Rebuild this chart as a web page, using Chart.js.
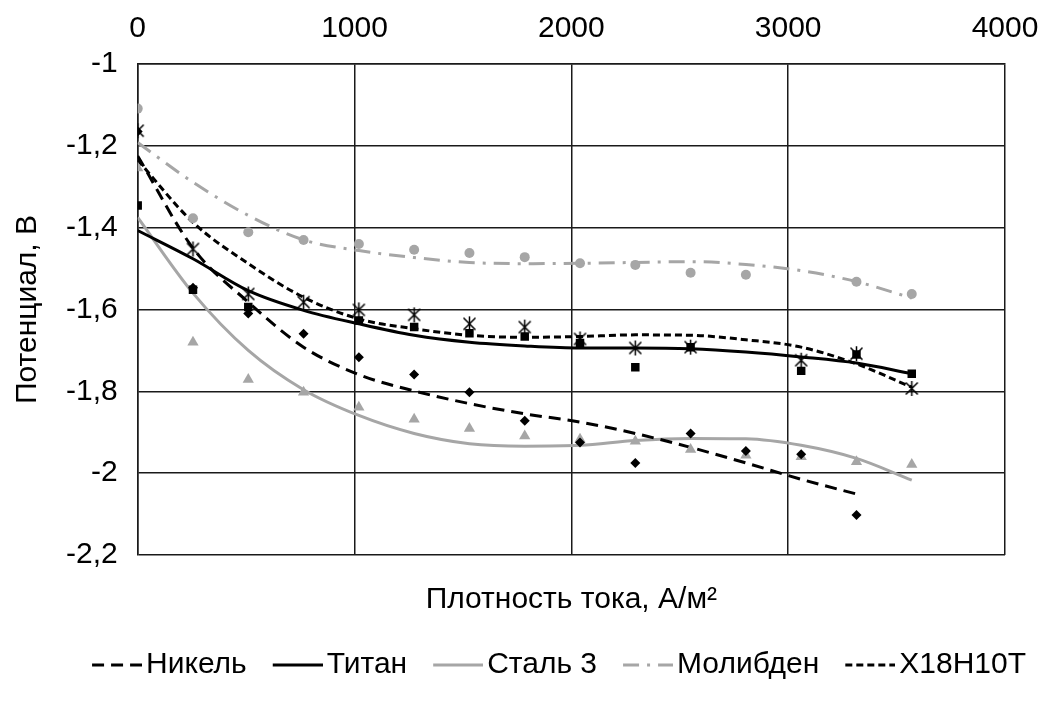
<!DOCTYPE html>
<html>
<head>
<meta charset="utf-8">
<script src="https://cdn.jsdelivr.net/npm/chart.js@4.4.1/dist/chart.umd.min.js"></script>
<style>
  html, body { margin: 0; padding: 0; background: #fff; }
</style>
</head>
<body>
<canvas id="potChart" width="1047" height="706"></canvas>
<script>
// Current density, A/m2 (same grid for every electrode)
const densities = [0, 255, 510, 765, 1020, 1275, 1530, 1785, 2040, 2295, 2550, 2805, 3060, 3315, 3570];

// Measured potentials, V (null = no measurement)
const nickel     = [-1.165, -1.547, -1.610, -1.659, -1.717, -1.759, -1.802, -1.872, -1.925, -1.975, -1.903, -1.946, -1.954, -2.102, null];
const titanium   = [-1.346, -1.552, -1.594, null, -1.627, -1.643, -1.658, -1.666, -1.682, -1.741, -1.692, null, -1.750, -1.710, -1.757];
const steel      = [-1.254, -1.680, -1.771, -1.802, -1.839, -1.868, -1.891, -1.909, -1.917, -1.922, -1.942, -1.956, -1.960, -1.972, -1.979];
const molybdenum = [-1.109, -1.377, -1.411, -1.430, -1.440, -1.454, -1.462, -1.472, -1.487, -1.491, -1.510, -1.515, null, -1.532, -1.562];
const x18        = [-1.163, -1.452, -1.562, -1.582, -1.601, -1.613, -1.635, -1.643, -1.672, -1.694, -1.692, null, -1.724, -1.708, -1.793];

// Trend curves at the same densities
const nickelTrend     = [-1.225, -1.450, -1.582, -1.692, -1.759, -1.799, -1.830, -1.855, -1.875, -1.903, -1.937, -1.975, -2.015, -2.051, null];
const titaniumTrend   = [-1.407, -1.476, -1.554, -1.602, -1.635, -1.663, -1.680, -1.689, -1.694, -1.694, -1.696, -1.704, -1.716, -1.731, -1.757];
const steelTrend      = [-1.375, -1.560, -1.700, -1.796, -1.859, -1.903, -1.928, -1.934, -1.932, -1.920, -1.915, -1.916, -1.932, -1.964, -2.017];
const molybdenumTrend = [-1.192, -1.289, -1.370, -1.430, -1.456, -1.473, -1.485, -1.488, -1.487, -1.485, -1.483, -1.490, -1.505, -1.532, -1.572];
const x18Trend        = [-1.235, -1.387, -1.488, -1.570, -1.623, -1.647, -1.663, -1.668, -1.666, -1.662, -1.663, -1.674, -1.692, -1.733, -1.790];

const seriesNames = ['Никель', 'Титан', 'Сталь 3', 'Молибден', 'Х18Н10Т'];

const GREY = '#a6a6a6';
const FONT = 'Liberation Sans, Arial, sans-serif';
const FONT_SIZE = 30;

function toPoints(ys) {
    return densities.map((x, i) => ({ x: x, y: ys[i] })).filter(p => p.y !== null);
}

// asterisk marker: X with a vertical stroke
function makeAsterisk(size) {
    const c = document.createElement('canvas');
    c.width = size; c.height = size;
    const g = c.getContext('2d');
    g.strokeStyle = '#000';
    g.lineWidth = 1.5;
    const m = size / 2, r = size / 2 - 1;
    g.beginPath();
    g.moveTo(m - r * 0.8, m - r * 0.8); g.lineTo(m + r * 0.8, m + r * 0.8);
    g.moveTo(m + r * 0.8, m - r * 0.8); g.lineTo(m - r * 0.8, m + r * 0.8);
    g.moveTo(m, m - r); g.lineTo(m, m + r);
    g.stroke();
    return c;
}

// legend sample: 50px line at the right of a 72px canvas,
// so it ends just before the label text
function makeLegendLine(color, width, dash) {
    const c = document.createElement('canvas');
    c.width = 72; c.height = 8;
    const g = c.getContext('2d');
    g.strokeStyle = color;
    g.lineWidth = width;
    g.setLineDash(dash);
    g.beginPath();
    g.moveTo(22, 4); g.lineTo(72, 4);
    g.stroke();
    return c;
}

function trend(label, ys, color, dash) {
    return {
        label: label, data: toPoints(ys), showLine: true, order: 1,
        borderColor: color, backgroundColor: color, borderWidth: 3, borderDash: dash,
        pointRadius: 0, pointHoverRadius: 0, cubicInterpolationMode: 'monotone'
    };
}

function markers(label, ys, color, style, radius) {
    return {
        label: label, data: toPoints(ys), showLine: false, order: 0,
        pointStyle: style, pointRadius: radius, pointBorderWidth: 0,
        backgroundColor: color, borderColor: color
    };
}

const datasets = [
    trend(seriesNames[0], nickelTrend, '#000', [12, 7]),
    trend(seriesNames[1], titaniumTrend, '#000', []),
    trend(seriesNames[2], steelTrend, GREY, []),
    trend(seriesNames[3], molybdenumTrend, GREY, [16, 8, 3, 8]),
    trend(seriesNames[4], x18Trend, '#000', [7, 4]),
    markers(seriesNames[0], nickel, '#000', 'rectRot', 5),
    markers(seriesNames[1], titanium, '#000', 'rect', 6),
    markers(seriesNames[2], steel, GREY, 'triangle', 6.5),
    markers(seriesNames[3], molybdenum, GREY, 'circle', 5),
    markers(seriesNames[4], x18, '#000', makeAsterisk(17), 8)
];

const gridStyle = { color: '#1a1a1a', lineWidth: 1.5, drawTicks: false };

// push the legend row a bit to the right of the centred position
const legendOffset = {
    id: 'legendOffset',
    afterLayout(chart) {
        chart.legend.left += 42;
        chart.legend.right += 42;
    }
};

new Chart(document.getElementById('potChart'), {
    type: 'scatter',
    data: { datasets: datasets },
    plugins: [legendOffset],
    options: {
        responsive: false,
        animation: false,
        layout: { autoPadding: false, padding: { left: 18, right: 42, top: -6, bottom: 16 } },
        plugins: {
            tooltip: { enabled: false },
            legend: {
                position: 'bottom',
                labels: {
                    usePointStyle: true,
                    pointStyleWidth: 50,
                    padding: 15,
                    color: '#000',
                    font: { family: FONT, size: FONT_SIZE },
                    generateLabels: chart => chart.data.datasets.slice(0, 5).map((ds, i) => ({
                        text: ds.label, datasetIndex: i,
                        pointStyle: makeLegendLine(ds.borderColor, ds.borderWidth, ds.borderDash),
                        strokeStyle: ds.borderColor, fillStyle: ds.borderColor,
                        lineWidth: 0, fontColor: '#000'
                    }))
                }
            }
        },
        scales: {
            x: {
                type: 'linear', position: 'top', min: 0, max: 4000,
                grid: gridStyle,
                border: { color: '#1a1a1a', width: 1.5 },
                ticks: {
                    stepSize: 1000, padding: 8, color: '#000',
                    font: { family: FONT, size: FONT_SIZE, lineHeight: 1.8 },
                    callback: v => String(v)
                }
            },
            xTitle: {
                type: 'linear', position: 'bottom', min: 0, max: 4000,
                grid: { display: false, drawTicks: false },
                border: { display: false },
                ticks: { display: false },
                title: {
                    display: true, text: 'Плотность тока, А/м²', color: '#000',
                    font: { family: FONT, size: FONT_SIZE }, padding: { top: 27, bottom: 17 }
                }
            },
            y: {
                type: 'linear', min: -2.2, max: -1,
                grid: gridStyle,
                border: { color: '#1a1a1a', width: 1.5 },
                ticks: {
                    stepSize: 0.2, padding: 20, color: '#000', font: { family: FONT, size: FONT_SIZE },
                    callback: v => String(Math.round(v * 10) / 10).replace('.', ',')
                },
                title: {
                    display: true, text: 'Потенциал, В', color: '#000',
                    font: { family: FONT, size: FONT_SIZE }, padding: { top: -8, bottom: 0 }
                }
            }
        }
    }
});
</script>
</body>
</html>
